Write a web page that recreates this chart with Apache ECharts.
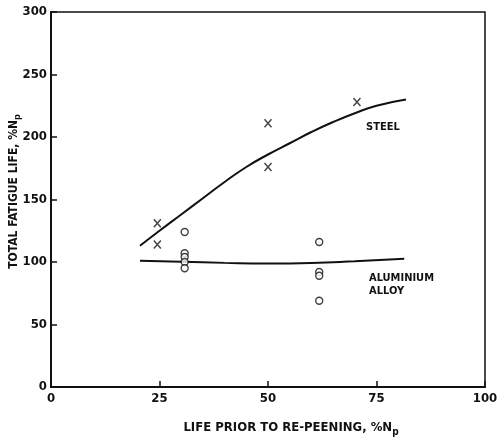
<!DOCTYPE html>
<html><head><meta charset="utf-8">
<script src="https://cdn.jsdelivr.net/npm/echarts@6/dist/echarts.min.js"></script>
<style>html,body{margin:0;padding:0;background:#fff}#c{width:500px;height:439px}</style>
</head><body><div id="c"></div>
<script>
const xTicks = [0, 25, 50, 75, 100];
const yTicks = [0, 50, 100, 150, 200, 250, 300];
const steelPoints = [[24.5, 131], [24.5, 114], [50, 211], [50, 176], [70.5, 228]];
const alumPoints = [[30.8, 124], [30.8, 107], [30.8, 104], [30.8, 100], [30.8, 95], [61.8, 116], [61.8, 92], [61.8, 89], [61.8, 69]];
const steelCurveX = [20.5, 25, 30, 35, 40, 45, 50, 55, 60, 65, 70, 75, 81.8];
const steelCurveY = [113, 125, 138, 151, 164, 176, 186, 195, 204, 212, 219, 225, 230];
const alumCurveX = [20.5, 30, 40, 50, 60, 70, 81.4];
const alumCurveY = [101, 100.2, 99.3, 98.8, 99.2, 100.6, 102.6];

const FONT = 'DejaVu Sans Condensed';
const INK = '#111';
const chart = echarts.init(document.getElementById('c'));
chart.setOption({
  animation: false,
  backgroundColor: '#fff',
  textStyle: { fontFamily: FONT, color: INK },
  grid: { left: 51, right: 15, top: 12, bottom: 52, outerBoundsMode: 'none', containLabel: false,
    show: true, borderColor: INK, borderWidth: 1.5, backgroundColor: 'transparent' },
  xAxis: {
    type: 'value', min: xTicks[0], max: xTicks[xTicks.length - 1], interval: 25,
    axisLine: { lineStyle: { color: INK, width: 2 } },
    axisTick: { inside: true, length: 6, lineStyle: { color: INK, width: 1.5 } },
    splitLine: { show: false },
    axisLabel: { color: INK, fontFamily: FONT, fontWeight: 'bold', fontSize: 13, margin: 5 },
    name: '{a|LIFE PRIOR TO RE-PEENING, %N}{s|p}',
    nameLocation: 'middle', nameGap: 31, nameMoveOverlap: false,
    nameTextStyle: { padding: [0, 0, 0, 46], rich: {
      a: { fontFamily: FONT, fontWeight: 'bold', fontSize: 13, color: INK },
      s: { fontFamily: FONT, fontWeight: 'bold', fontSize: 10, color: INK, padding: [9, 0, 0, 0] }
    } }
  },
  yAxis: {
    type: 'value', min: yTicks[0], max: yTicks[yTicks.length - 1], interval: 50,
    axisLine: { lineStyle: { color: INK, width: 2 } },
    axisTick: { inside: true, length: 6, lineStyle: { color: INK, width: 1.5 } },
    splitLine: { show: false },
    axisLabel: { color: INK, fontFamily: FONT, fontWeight: 'bold', fontSize: 13, margin: 4 },
    name: '{a|TOTAL FATIGUE LIFE, %N}{s|p}',
    nameLocation: 'middle', nameGap: 29, nameRotate: 90, nameMoveOverlap: false,
    nameTextStyle: { padding: [0, 0, 0, 16], rich: {
      a: { fontFamily: FONT, fontWeight: 'bold', fontSize: 12, color: INK },
      s: { fontFamily: FONT, fontWeight: 'bold', fontSize: 9, color: INK, padding: [8, 0, 0, 0] }
    } }
  },
  series: [
    { type: 'line', data: steelCurveX.map((x, i) => [x, steelCurveY[i]]), smooth: true, symbol: 'none',
      lineStyle: { color: INK, width: 2 } },
    { type: 'line', data: alumCurveX.map((x, i) => [x, alumCurveY[i]]), smooth: true, symbol: 'none',
      lineStyle: { color: INK, width: 2 } },
    { type: 'scatter', data: steelPoints, symbol: 'path://M0,0L10,11M10,0L0,11', symbolSize: [7, 8],
      itemStyle: { color: 'none', borderColor: INK, borderWidth: 1.6 } },
    { type: 'scatter', data: alumPoints, symbol: 'circle', symbolSize: 7, z: 5,
      itemStyle: { color: '#fff', borderColor: INK, borderWidth: 1.4 } }
  ],
  graphic: [
    { type: 'text', left: 366, top: 122, style: { text: 'STEEL', font: 'bold 11px "DejaVu Sans Condensed"', fill: INK } },
    { type: 'text', left: 369, top: 272, style: { text: 'ALUMINIUM\nALLOY', font: 'bold 11px "DejaVu Sans Condensed"', fill: INK, lineHeight: 13 } }
  ]
});
</script></body></html>
